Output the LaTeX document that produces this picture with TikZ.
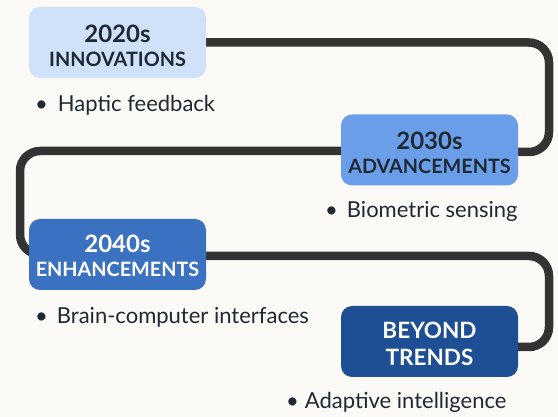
\documentclass[tikz,border=0pt]{standalone}
\usepackage{fontspec}
\setmainfont{Lato}
\usetikzlibrary{backgrounds}
\definecolor{bgc}{HTML}{FBFAF6}
\definecolor{linec}{HTML}{333333}
\definecolor{boxa}{HTML}{CFE2FA}
\definecolor{boxb}{HTML}{6A9EE8}
\definecolor{boxc}{HTML}{3A71C1}
\definecolor{boxd}{HTML}{1E4E93}
\definecolor{darktext}{HTML}{1F2933}
\tikzset{
  stagebox/.style={rounded corners=11pt, minimum width=177pt, minimum height=71pt, inner sep=0pt, align=center},
  conn/.style={draw=linec, line width=8.5pt, rounded corners=20pt},
  bullettext/.style={anchor=west, inner sep=0pt, font=\fontsize{22}{26}\selectfont, text=darktext},
  yearfont/.style={font=\fontsize{24}{27}\selectfont\bfseries},
}
\newcommand{\sublabel}[1]{{\fontsize{19.8}{27}\selectfont\bfseries #1}}
\newcommand{\topstrut}[1]{\rule{0pt}{#1}}
\begin{document}
\begin{tikzpicture}[x=1pt,y=-1pt]
\useasboundingbox (0,0) rectangle (558,417);
\node[stagebox, fill=boxa, text=darktext, yearfont] (b1) at (117.5,42.5) {\topstrut{23.5pt}2020s\\[-3pt]\sublabel{INNOVATIONS}};
\node[stagebox, fill=boxb, text=darktext, yearfont] (b2) at (429.5,150) {\topstrut{23.5pt}2030s\\[-3pt]\sublabel{ADVANCEMENTS}};
\node[stagebox, fill=boxc, text=white, yearfont] (b3) at (117.5,254.5) {\topstrut{21pt}2040s\\[-3pt]\sublabel{ENHANCEMENTS}};
\node[stagebox, fill=boxd, text=white, font=\fontsize{22.5}{27}\selectfont\bfseries] (b4) at (429.5,341.5) {\topstrut{20.2pt}BEYOND\\TRENDS};
\coordinate (r1) at (549,95);
\coordinate (l1) at (20,200);
\coordinate (r2) at (549,300);
\node[bullettext] (t1) at (35,105) {\textbullet\hspace{10pt}Haptic feedback};
\node[bullettext] (t2) at (325,211) {\textbullet\hspace{9pt}Biometric sensing};
\node[bullettext] (t3) at (35,317) {\textbullet\hspace{9pt}Brain-computer interfaces};
\node[bullettext] (t4) at (286,402) {\textbullet\hspace{6pt}Adaptive intelligence};
\begin{scope}[on background layer]
\fill[bgc] (0,0) rectangle (558,417);
\draw[conn] (b1.east) -| (r1) |- ([yshift=-2pt]b2.east);
\draw[conn] ([yshift=-1pt]b2.west) -| (l1) |- (b3.west);
\draw[conn] ([yshift=-1.5pt]b3.east) -| (r2) |- ([yshift=-5.5pt]b4.east);
\end{scope}
\end{tikzpicture}
\end{document}
